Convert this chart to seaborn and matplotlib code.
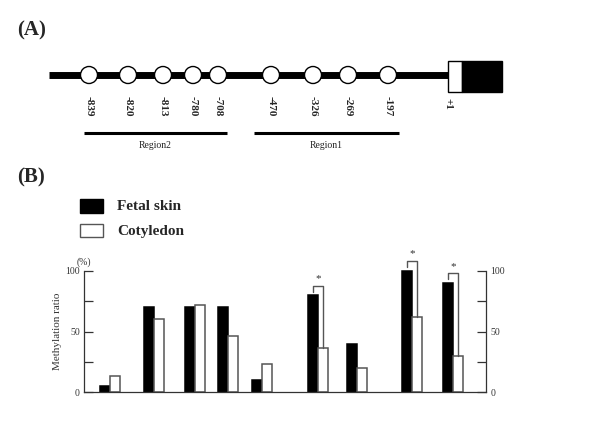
import numpy as np
import pandas as pd
import matplotlib
matplotlib.use("Agg")
import matplotlib.pyplot as plt
from matplotlib.patches import Ellipse, Rectangle
import seaborn as sns

# ---------------- data ----------------
cpg_sites = ['-839', '-820', '-813', '-780', '-708', '-470', '-326', '-269', '-197']
fetal_skin = [5, 70, 70, 70, 10, 80, 40, 100, 90]
cotyledon = [13, 60, 72, 46, 23, 36, 20, 62, 30]
significant = ['-470', '-269', '-197']
series_names = ['Fetal skin', 'Cotyledon']
region_names = ['Region2', 'Region1']
y_ticks = [0, 25, 50, 75, 100]
y_ticklabels = ['0', '', '50', '', '100']

# ---------------- layout (pixels) ----------------
W, H = 600, 425
circle_x = [89, 128, 163, 193, 218, 271, 313, 348, 388]
bar_x = [110, 154, 195, 228, 262, 318, 357, 412, 453]
region_span = [(84, 227), (254, 399)]

sns.set_theme(style="white")
plt.rcParams['font.family'] = ['Liberation Serif', 'DejaVu Serif']

fig = plt.figure(figsize=(W / 100, H / 100), dpi=100)

# overlay axes in pixel coordinates for panel A + labels
ov = fig.add_axes([0, 0, 1, 1])
ov.set_xlim(0, W)
ov.set_ylim(H, 0)
ov.axis('off')

ov.text(17, 30, '(A)', fontsize=15, fontweight='bold', ha='left', va='center')
ov.text(17, 177, '(B)', fontsize=15, fontweight='bold', ha='left', va='center')

# gene line
ov.plot([49, 448], [75, 75], color='black', lw=5, solid_capstyle='butt', zorder=1)
for cx, lab in zip(circle_x, cpg_sites):
    ov.add_patch(Ellipse((cx, 75), 17, 17, facecolor='white', edgecolor='black', lw=1, zorder=2))
    ov.text(cx, 96, lab, rotation=-90, ha='center', va='top', fontsize=8, fontweight='bold')
ov.add_patch(Rectangle((448, 61), 14, 31, facecolor='white', edgecolor='black', lw=1, zorder=2))
ov.add_patch(Rectangle((462, 61), 40, 31, facecolor='black', edgecolor='black', lw=1, zorder=2))
ov.text(448, 98, '+1', rotation=-90, ha='center', va='top', fontsize=8, fontweight='bold')

for (x0, x1), name in zip(region_span, region_names):
    ov.plot([x0, x1], [133, 133], color='black', lw=2.2, solid_capstyle='butt')
    ov.text((x0 + x1) / 2, 146, name, ha='center', va='center', fontsize=7, color='#222222')

# legend
ov.add_patch(Rectangle((80, 199), 23, 14, facecolor='black', edgecolor='black', lw=1))
ov.add_patch(Rectangle((80, 224), 23, 13, facecolor='white', edgecolor='#555555', lw=1))
ov.text(117, 206, series_names[0], ha='left', va='center', fontsize=11, fontweight='bold')
ov.text(117, 231, series_names[1], ha='left', va='center', fontsize=11, fontweight='bold')

# ---------------- panel B ----------------
df = pd.DataFrame({
    'x': bar_x * 2,
    'site': cpg_sites * 2,
    'value': fetal_skin + cotyledon,
    'tissue': [series_names[0]] * len(cpg_sites) + [series_names[1]] * len(cpg_sites),
})

ax = fig.add_axes([84 / W, (H - 392) / H, (486 - 84) / W, 121 / H])
sns.barplot(data=df, x='x', y='value', hue='tissue', hue_order=series_names,
            palette={series_names[0]: 'black', series_names[1]: 'white'},
            native_scale=True, width=0.61, dodge=True, legend=False,
            errorbar=None, ax=ax, linewidth=1.1)
n = len(cpg_sites)
for i, p in enumerate(ax.patches[:2 * n]):
    p.set_edgecolor('black' if i < n else '#555555')
    p.set_clip_on(False)

ax.set_xlim(84, 486)
ax.set_ylim(0, 100)
ax.set_xlabel('')
ax.set_ylabel('Methylation ratio', fontsize=8, color='#333333', labelpad=2)
ax.set_xticks([])
ax.set_yticks(y_ticks)
ax.set_yticklabels(y_ticklabels)
ax.tick_params(axis='y', direction='in', length=6.5, width=0.9, color='#333333',
               left=True, right=True, labelleft=True, labelright=True,
               labelsize=7, labelcolor='#333333', pad=3)
for s in ['left', 'right', 'bottom']:
    ax.spines[s].set_visible(True)
    ax.spines[s].set_color('#333333')
    ax.spines[s].set_linewidth(0.9)
ax.spines['top'].set_visible(False)
ax.text(0.0, 1.035, '(%)', transform=ax.transAxes, fontsize=7, color='#333333', ha='center', va='bottom')

# significance brackets
for site in significant:
    i = cpg_sites.index(site)
    xl, xr = bar_x[i] - 5, bar_x[i] + 5
    top = fetal_skin[i] + 8
    ax.plot([xl, xl, xr, xr], [fetal_skin[i] + 3, top, top, cotyledon[i]],
            color='#555555', lw=1, clip_on=False)
    ax.text(bar_x[i], top + 6, '*', ha='center', va='center', fontsize=8, color='#333333')

fig.savefig('out.png', dpi=100)
